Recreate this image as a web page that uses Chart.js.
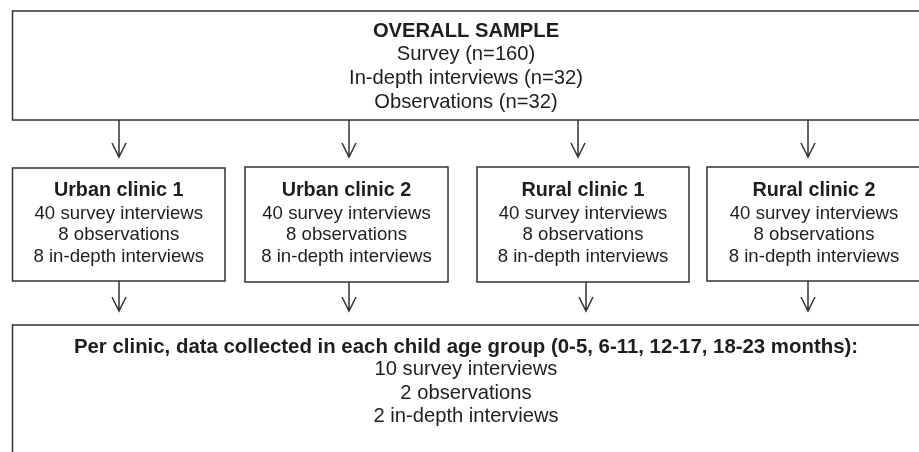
<!DOCTYPE html>
<html lang="en">
<head>
    <meta charset="UTF-8">
    <title>Sample flow</title>
    <script src="https://cdn.jsdelivr.net/npm/chart.js"></script>
    <style>
        html, body { margin: 0; padding: 0; background: #fff; }
        #chartContainer { width: 919px; height: 452px; position: relative; }
    </style>
</head>
<body>
    <div id="chartContainer">
        <canvas id="myChart"></canvas>
    </div>
    <script>
        // box texts
        const topTitle = 'OVERALL SAMPLE';
        const topLines = ['Survey (n=160)', 'In-depth interviews (n=32)', 'Observations (n=32)'];
        const clinicNames = ['Urban clinic 1', 'Urban clinic 2', 'Rural clinic 1', 'Rural clinic 2'];
        const clinicLines = ['40 survey interviews', '8 observations', '8 in-depth interviews'];
        const groupTitle = 'Per clinic, data collected in each child age group (0-5, 6-11, 12-17, 18-23 months):';
        const groupLines = ['10 survey interviews', '2 observations', '2 in-depth interviews'];

        // layout in scale units (x: 0-919, y: 0-452 top down); right edges run off the page
        const topBox = { x1: 12.5, y1: 11, x2: 930, y2: 120 };
        const clinicBoxes = [
            { x1: 12.5, y1: 168, x2: 225, y2: 281 },
            { x1: 245, y1: 167, x2: 448, y2: 282 },
            { x1: 477, y1: 167, x2: 689, y2: 282 },
            { x1: 707, y1: 167, x2: 930, y2: 281 }
        ];
        const groupBox = { x1: 12.5, y1: 325, x2: 930, y2: 470 };
        const upperArrowX = [119, 349, 578, 808];
        const lowerArrowX = [119, 349, 586, 808];

        const ink = '#1e1e1e';
        const lineCol = '#333';
        const fontFam = 'px "Liberation Sans", Arial, sans-serif';

        const flowPlugin = {
            id: 'flow',
            afterDraw(chart) {
                const ctx = chart.ctx;
                const xs = chart.scales.x, ys = chart.scales.y;
                const px = v => xs.getPixelForValue(v);
                const py = v => ys.getPixelForValue(v);

                ctx.save();
                ctx.strokeStyle = lineCol;
                ctx.lineWidth = 1.5;

                function box(b) {
                    ctx.strokeRect(px(b.x1), py(b.y1), px(b.x2) - px(b.x1), py(b.y2) - py(b.y1));
                }
                function arrow(x, y1, y2) {
                    ctx.beginPath();
                    ctx.moveTo(px(x), py(y1));
                    ctx.lineTo(px(x), py(y2));
                    ctx.moveTo(px(x - 7), py(y2 - 14));
                    ctx.lineTo(px(x), py(y2));
                    ctx.lineTo(px(x + 7), py(y2 - 14));
                    ctx.stroke();
                }
                // first line bold; baselines given per line
                function text(lines, cx, baselines, boldSize, size) {
                    ctx.fillStyle = ink;
                    ctx.textAlign = 'center';
                    ctx.textBaseline = 'alphabetic';
                    lines.forEach((t, i) => {
                        ctx.font = i === 0 ? 'bold ' + boldSize + fontFam : size + fontFam;
                        ctx.fillText(t, px(cx), py(baselines[i]));
                    });
                }

                box(topBox);
                clinicBoxes.forEach(box);
                box(groupBox);

                upperArrowX.forEach(x => arrow(x, topBox.y2, 157));
                lowerArrowX.forEach((x, i) => arrow(x, clinicBoxes[i].y2, 311));

                text([topTitle].concat(topLines), 466, [36.7, 60, 84, 108], 20.2, 20.2);
                clinicBoxes.forEach((b, i) => {
                    const cx = i === 3 ? 814 : (b.x1 + b.x2) / 2;
                    text([clinicNames[i]].concat(clinicLines), cx, [196, 218.5, 240, 261.5], 19.8, 18.6);
                });
                text([groupTitle].concat(groupLines), 466, [352.5, 375, 399, 422], 20.4, 20.2);
                ctx.restore();
            }
        };

        const ctx = document.getElementById('myChart').getContext('2d');
        new Chart(ctx, {
            type: 'scatter',
            data: { datasets: [{ data: [] }] },
            options: {
                responsive: true,
                maintainAspectRatio: false,
                animation: false,
                layout: { padding: 0 },
                scales: {
                    x: { type: 'linear', min: 0, max: 919, display: false },
                    y: { type: 'linear', min: 0, max: 452, reverse: true, display: false }
                },
                plugins: { legend: { display: false }, tooltip: { enabled: false } }
            },
            plugins: [flowPlugin]
        });
    </script>
</body>
</html>
